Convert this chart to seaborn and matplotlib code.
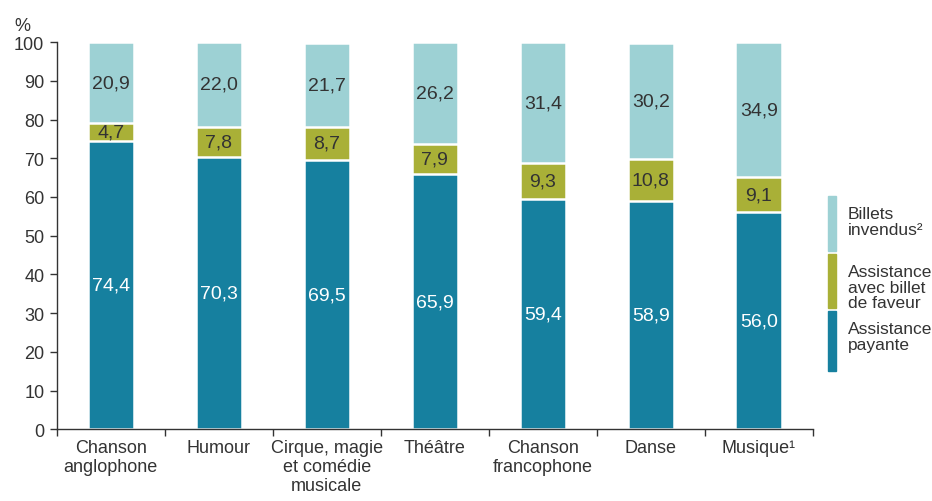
import numpy as np
import pandas as pd
import seaborn as sns
import matplotlib.pyplot as plt
from matplotlib.patches import Rectangle

categories = ["Chanson\nanglophone", "Humour", "Cirque, magie\net comédie\nmusicale",
              "Théâtre", "Chanson\nfrancophone", "Danse", "Musique¹"]
payante = [74.4, 70.3, 69.5, 65.9, 59.4, 58.9, 56.0]
faveur = [4.7, 7.8, 8.7, 7.9, 9.3, 10.8, 9.1]
invendus = [20.9, 22.0, 21.7, 26.2, 31.4, 30.2, 34.9]

c_pay = "#16809f"
c_fav = "#a9b037"
c_inv = "#9dd1d4"
txt = "#333333"

sns.set_style("white")
plt.rcParams["font.family"] = ["Liberation Sans", "DejaVu Sans"]

df = pd.DataFrame({"cat": categories, "pay": payante, "fav": faveur, "inv": invendus})
df["top2"] = df["pay"] + df["fav"]
df["top3"] = df["top2"] + df["inv"]

fig = plt.figure(figsize=(9.32, 5.02), dpi=100)
ax = fig.add_axes([0.061, 0.143, 0.811, 0.771])

for col, c in [("top3", c_inv), ("top2", c_fav), ("pay", c_pay)]:
    sns.barplot(data=df, x="cat", y=col, color=c, width=0.43, saturation=1,
                edgecolor="white", linewidth=1.8, ax=ax)

# value labels
for i in range(len(categories)):
    p, f, v = payante[i], faveur[i], invendus[i]
    ax.text(i, p / 2, f"{p:.1f}".replace(".", ","), ha="center", va="center",
            color="white", fontsize=14)
    ax.text(i, p + f / 2, f"{f:.1f}".replace(".", ","), ha="center", va="center",
            color=txt, fontsize=14)
    ax.text(i, p + f + v / 2, f"{v:.1f}".replace(".", ","), ha="center", va="center",
            color=txt, fontsize=14)

ax.set_ylim(0, 100)
ax.set_xlim(-0.5, len(categories) - 0.5)
ax.set_yticks(np.arange(0, 101, 10))
ax.set_xlabel("")
ax.set_ylabel("")
ax.set_xticks(np.arange(-0.5, len(categories), 1), minor=True)
ax.tick_params(axis="x", which="major", length=0, pad=7, labelsize=13, labelcolor=txt)
for lab in ax.get_xticklabels():
    lab.set_linespacing(1.15)
ax.tick_params(axis="x", which="minor", length=5, width=1, color=txt, direction="out", bottom=True)
ax.tick_params(axis="y", length=5, width=1, color=txt, direction="out", left=True,
               labelsize=13, labelcolor=txt, pad=4)
for s in ["top", "right"]:
    ax.spines[s].set_visible(False)
for s in ["left", "bottom"]:
    ax.spines[s].set_color(txt)
    ax.spines[s].set_linewidth(1)
ax.text(-0.035, 1.02, "%", transform=ax.transAxes, ha="right", va="bottom",
        fontsize=13, color=txt)

# legend on the right
W, H = 932, 502
leg = [(197, 252, c_inv, "Billets\ninvendus²"),
       (255, 309, c_fav, "Assistance\navec billet\nde faveur"),
       (312, 372, c_pay, "Assistance\npayante")]
for y0, y1, c, lab in leg:
    fig.patches.append(Rectangle((828 / W, 1 - y1 / H), 8 / W, (y1 - y0) / H,
                                 transform=fig.transFigure, color=c))
    fig.text(848 / W, 1 - (y0 + 10) / H, lab, ha="left", va="top", fontsize=12.5,
             color=txt, linespacing=1.05)

fig.savefig("out.png", dpi=100)
